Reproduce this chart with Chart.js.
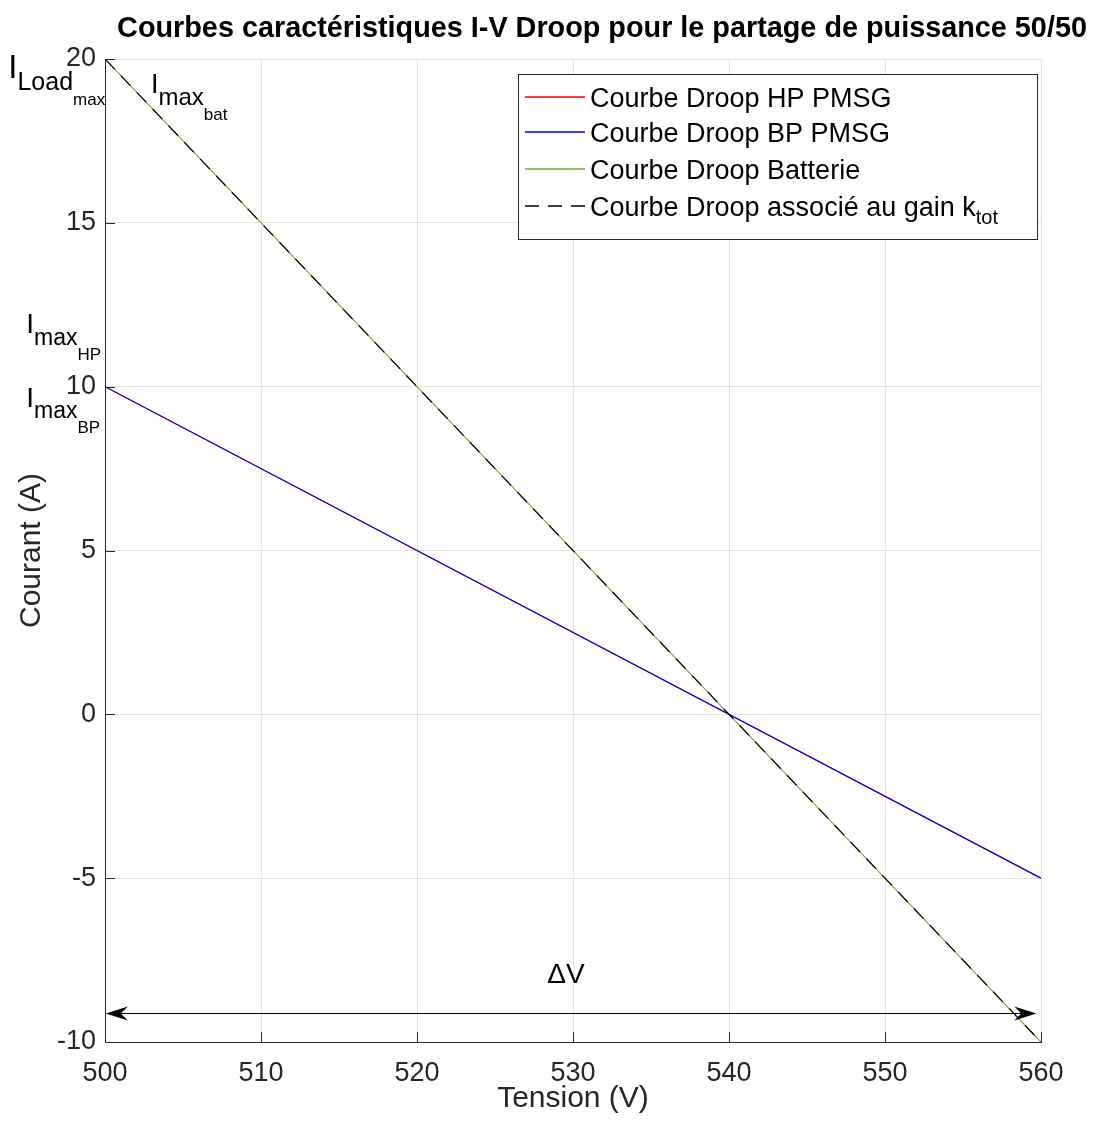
<!DOCTYPE html>
<html>
<head>
<meta charset="utf-8">
<script src="https://cdn.jsdelivr.net/npm/chart.js@4/dist/chart.umd.min.js"></script>
<style>
  html, body { margin: 0; padding: 0; background: #fff; }
  #wrap { width: 1094px; height: 1130px; }
</style>
</head>
<body>
<div id="wrap"><canvas id="chartCanvas"></canvas></div>
<script>
// tension (V) aux extrémités des courbes
const tensionV = [500, 560];
// courant (A) de chaque courbe droop
const courantHP = [10, -5];
const courantBP = [10, -5];
const courantBatterie = [20, -10];
const courantKtot = [20, -10];

const seriesNames = ['Courbe Droop HP PMSG', 'Courbe Droop BP PMSG', 'Courbe Droop Batterie', 'Courbe Droop associé au gain k'];
const seriesColors = ['#ff0000', '#0000ff', '#77ac30', '#000000'];
const seriesDash = [[], [], [], [14, 9]];

// flèche ΔV
const arrowX = [500.05, 559.7];
const arrowY = -9.1;

const FONT = '"Liberation Sans", Arial, Helvetica, sans-serif';
const AXIS = '#262626';

// annotations texte : [x, y, morceaux (texte, taille, décalage vertical)]
const annotations = [
  { x: 493.8, y: 19.42, parts: [['I', 33, 0], ['Load', 25, 12], ['max', 17, 27]] },
  { x: 502.95, y: 18.96, parts: [['I', 27, 0], ['max', 24, 12], ['bat', 17, 27]] },
  { x: 494.95, y: 11.64, parts: [['I', 28, 0], ['max', 23, 12], ['HP', 17, 27]] },
  { x: 494.95, y: 9.38, parts: [['I', 28, 0], ['max', 23, 11], ['BP', 17, 26]] },
  { x: 528.35, y: -8.2, parts: [['ΔV', 28, 0]] }
];

function toPoints(xs, ys) {
  return xs.map((x, i) => ({ x: x, y: ys[i] }));
}

function drawParts(ctx, x, y, parts) {
  let cx = x;
  parts.forEach(p => {
    ctx.font = p[1] + 'px ' + FONT;
    ctx.fillText(p[0], cx, y + p[2]);
    cx += ctx.measureText(p[0]).width;
  });
}

function drawArrowHead(ctx, tx, ty, dir) {
  ctx.beginPath();
  ctx.moveTo(tx, ty);
  ctx.lineTo(tx + dir * 22, ty - 7);
  ctx.lineTo(tx + dir * 15, ty);
  ctx.lineTo(tx + dir * 22, ty + 7);
  ctx.closePath();
  ctx.fill();
}

const overlay = {
  id: 'overlay',
  afterDraw(chart) {
    const ctx = chart.ctx;
    const xs = chart.scales.x, ys = chart.scales.y;
    const area = chart.chartArea;
    ctx.save();

    // titre
    ctx.fillStyle = '#000';
    ctx.font = 'bold 28.8px ' + FONT;
    ctx.textAlign = 'center';
    ctx.textBaseline = 'alphabetic';
    ctx.fillText('Courbes caractéristiques I-V Droop pour le partage de puissance 50/50', 602, 37);

    // graduations vers l'intérieur
    ctx.strokeStyle = AXIS;
    ctx.lineWidth = 1;
    ctx.beginPath();
    xs.ticks.forEach(t => {
      const px = Math.round(xs.getPixelForValue(t.value)) + 0.5;
      ctx.moveTo(px, area.bottom);
      ctx.lineTo(px, area.bottom - 10);
    });
    ys.ticks.forEach(t => {
      const py = Math.round(ys.getPixelForValue(t.value)) + 0.5;
      ctx.moveTo(area.left, py);
      ctx.lineTo(area.left + 10, py);
    });
    ctx.stroke();

    // annotations
    ctx.textAlign = 'left';
    ctx.fillStyle = '#000';
    annotations.forEach(a => {
      drawParts(ctx, xs.getPixelForValue(a.x), ys.getPixelForValue(a.y), a.parts);
    });

    // flèche double ΔV
    const ax1 = xs.getPixelForValue(arrowX[0]);
    const ax2 = xs.getPixelForValue(arrowX[1]);
    const ay = Math.round(ys.getPixelForValue(arrowY)) + 0.5;
    ctx.strokeStyle = '#000';
    ctx.lineWidth = 1.2;
    ctx.beginPath();
    ctx.moveTo(ax1 + 10, ay);
    ctx.lineTo(ax2 - 10, ay);
    ctx.stroke();
    ctx.fillStyle = '#000';
    drawArrowHead(ctx, ax1, ay, 1);
    drawArrowHead(ctx, ax2, ay, -1);

    // légende
    const lx = 518, ly = 74, lw = 519, lh = 165;
    ctx.fillStyle = '#fff';
    ctx.fillRect(lx, ly, lw, lh);
    ctx.strokeStyle = AXIS;
    ctx.lineWidth = 1;
    ctx.strokeRect(lx + 0.5, ly + 0.5, lw, lh);
    const rows = [97, 132, 169, 206];
    seriesNames.forEach((name, i) => {
      ctx.strokeStyle = seriesColors[i];
      ctx.lineWidth = 1.5;
      ctx.setLineDash(seriesDash[i]);
      ctx.beginPath();
      ctx.moveTo(525, rows[i]);
      ctx.lineTo(585, rows[i]);
      ctx.stroke();
      ctx.setLineDash([]);
      ctx.fillStyle = '#000';
      ctx.textBaseline = 'alphabetic';
      const parts = [[name, 27, 0]];
      if (i === 3) parts.push(['tot', 20, 8]);
      drawParts(ctx, 590, rows[i] + 10, parts);
    });

    ctx.restore();
  }
};

const ctx = document.getElementById('chartCanvas').getContext('2d');
const chart = new Chart(ctx, {
  type: 'scatter',
  data: {
    datasets: seriesNames.map((name, i) => ({
      label: name,
      data: toPoints(tensionV, [courantHP, courantBP, courantBatterie, courantKtot][i]),
      borderColor: seriesColors[i],
      backgroundColor: seriesColors[i],
      borderDash: seriesDash[i],
      borderWidth: 1.2,
      showLine: true,
      pointRadius: 0,
      order: 4 - i
    }))
  },
  options: {
    responsive: true,
    maintainAspectRatio: false,
    animation: false,
    layout: { padding: { top: 59, right: 53, left: 0, bottom: 0 } },
    plugins: {
      legend: { display: false },
      tooltip: { enabled: false },
      title: { display: false }
    },
    scales: {
      x: {
        type: 'linear',
        min: 500,
        max: 560,
        afterFit: s => { s.height = 88; },
        ticks: { stepSize: 10, color: AXIS, padding: 15, font: { family: FONT, size: 27 } },
        grid: { color: '#e3e3e3', drawTicks: false },
        border: { display: true, color: AXIS, width: 1 },
        title: { display: true, text: 'Tension (V)', color: AXIS, font: { family: FONT, size: 30 }, padding: { top: 0, bottom: 13 } }
      },
      y: {
        type: 'linear',
        min: -10,
        max: 20,
        afterFit: s => { s.width = 105; },
        ticks: { stepSize: 5, color: AXIS, padding: 9, font: { family: FONT, size: 27 } },
        grid: { color: '#e3e3e3', drawTicks: false },
        border: { display: true, color: AXIS, width: 1 },
        title: { display: true, text: 'Courant (A)', color: AXIS, font: { family: FONT, size: 30 }, padding: { top: 14, bottom: 0 } }
      }
    }
  },
  plugins: [overlay]
});
</script>
</body>
</html>
